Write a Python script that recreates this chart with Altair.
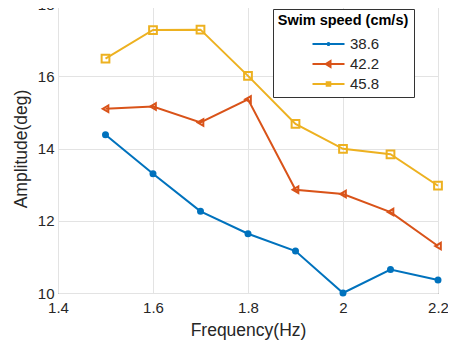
import altair as alt
import pandas as pd

freq = [1.5, 1.6, 1.7, 1.8, 1.9, 2.0, 2.1, 2.2]
speeds = ["38.6", "42.2", "45.8"]
amp_386 = [14.38, 13.30, 12.26, 11.64, 11.16, 10.00, 10.65, 10.36]
amp_422 = [15.10, 15.16, 14.72, 15.36, 12.86, 12.74, 12.24, 11.30]
amp_458 = [16.49, 17.28, 17.29, 16.01, 14.68, 13.99, 13.84, 12.97]
colors = ["#0072BD", "#D95319", "#EDB120"]
x_ticks = [1.4, 1.6, 1.8, 2.0, 2.2]
y_ticks = [10, 12, 14, 16, 18]

rows = []
for s, vals in zip(speeds, [amp_386, amp_422, amp_458]):
    for f, v in zip(freq, vals):
        rows.append({"freq": f, "amp": v, "speed": s})
df = pd.DataFrame(rows)

FONT = "Liberation Sans"


def cscale():
    return alt.Scale(domain=speeds, range=colors)


x_enc = alt.X("freq:Q", scale=alt.Scale(domain=[1.4, 2.2], nice=False),
              axis=alt.Axis(values=x_ticks, format=".2~f", title="Frequency(Hz)",
                            grid=True, domain=False, tickSize=0, labelPadding=7,
                            titlePadding=6, labelFontSize=15, titleFontSize=17.5,
                            labelFlush=False))
y_enc = alt.Y("amp:Q", scale=alt.Scale(domain=[10, 18], nice=False),
              axis=alt.Axis(values=y_ticks, format="d", title="Amplitude(deg)",
                            grid=True, domain=False, tickSize=0, labelPadding=4,
                            titlePadding=7, labelFontSize=15, titleFontSize=17.5,
                            labelFlush=False))

lines = alt.Chart(df).mark_line(strokeWidth=2).encode(
    x=x_enc, y=y_enc,
    color=alt.Color("speed:N", scale=cscale(), legend=None),
    detail="speed:N",
)

points = alt.Chart(df).mark_point(strokeWidth=2, opacity=1).encode(
    x="freq:Q", y="amp:Q",
    color=alt.Color("speed:N", scale=cscale(), legend=None),
    shape=alt.Shape("speed:N", scale=alt.Scale(domain=speeds,
                    range=["circle", "triangle-left", "square"]), legend=None),
    fill=alt.Fill("speed:N", scale=alt.Scale(domain=speeds,
                  range=["#0072BD", "transparent", "transparent"]), legend=None),
    size=alt.Size("speed:N", scale=alt.Scale(domain=speeds, range=[25, 60, 22]), legend=None),
)

leg_shapes = [
    "M-4,0H4M-0.25,0A0.25,0.25 0 1,0 0.25,0A0.25,0.25 0 1,0 -0.25,0",
    "M-4,0H4M-0.7,0L0.5,-0.75L0.5,0.75Z",
    "M-4,0H4M-0.45,-0.45H0.45V0.45H-0.45Z",
]
leg_kw = dict(title="Swim speed (cm/s)", orient="none",
              legendX=215, legendY=5,
              fillColor="white", strokeColor="#333333",
              padding=5, titleAnchor="middle",
              titleFontSize=14.5, titleFontWeight="bold",
              titleColor="black", titlePadding=8,
              labelFontSize=15, labelColor="#262626",
              symbolSize=64, symbolStrokeWidth=2,
              symbolOpacity=1, symbolOffset=15, symbolFillColor="white",
              labelOffset=14, rowPadding=4)

legend_layer = alt.Chart(df).mark_point(opacity=0, filled=False, strokeWidth=2).encode(
    x="freq:Q", y="amp:Q",
    color=alt.Color("speed:N", scale=cscale(), legend=alt.Legend(**leg_kw)),
    shape=alt.Shape("speed:N", scale=alt.Scale(domain=speeds, range=leg_shapes),
                    legend=alt.Legend(**leg_kw)),
)

sep = alt.Chart(pd.DataFrame({"a": [0]})).mark_rule(color="#333333", strokeWidth=1).encode(
    x=alt.value(215), x2=alt.value(355), y=alt.value(28)
)

chart = alt.layer(lines, points, legend_layer, sep).resolve_scale(
    shape="independent", size="independent", color="independent"
).properties(
    width=380, height=289,
    padding={"left": 50, "top": -4, "right": 10, "bottom": 50},
    autosize=alt.AutoSizeParams(type="none"),
).configure_view(
    stroke="#444444", strokeWidth=1
).configure_axis(
    labelFont=FONT, titleFont=FONT, labelColor="#262626", titleColor="#262626",
    gridColor="#e3e3e3", titleFontWeight="normal"
).configure_legend(
    labelFont=FONT, titleFont=FONT
)

chart.save("out.html", embed_options={"renderer": "svg", "actions": False})
